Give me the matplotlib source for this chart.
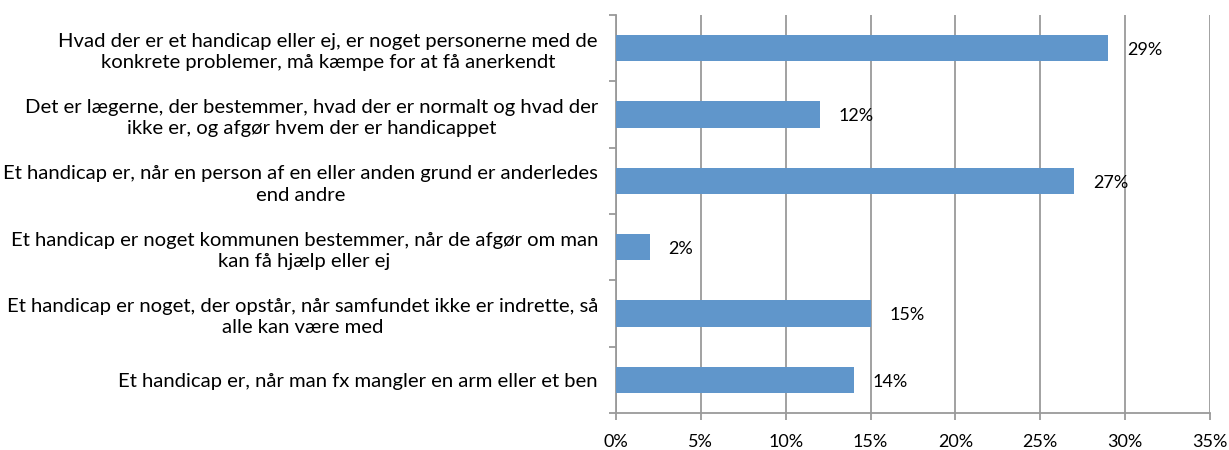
import matplotlib
matplotlib.use("Agg")
import matplotlib.pyplot as plt
import numpy as np

categories = [
    "Hvad der er et handicap eller ej, er noget personerne med de\nkonkrete problemer, må kæmpe for at få anerkendt",
    "Det er lægerne, der bestemmer, hvad der er normalt og hvad der\nikke er, og afgør hvem der er handicappet",
    "Et handicap er, når en person af en eller anden grund er anderledes\nend andre",
    "Et handicap er noget kommunen bestemmer, når de afgør om man\nkan få hjælp eller ej",
    "Et handicap er noget, der opstår, når samfundet ikke er indrette, så\nalle kan være med",
    "Et handicap er, når man fx mangler en arm eller et ben",
]
values = [29, 12, 27, 2, 15, 14]
xticks = [0, 5, 10, 15, 20, 25, 30, 35]
xticklabels = ["0%", "5%", "10%", "15%", "20%", "25%", "30%", "35%"]

plt.rcParams['font.family'] = ['Lato', 'DejaVu Sans']

W, H = 1229, 450
fig = plt.figure(figsize=(W/100, H/100), dpi=100)
ax = fig.add_axes([616/W, 1 - 413/H, (1210-616)/W, (413-15)/H])

n = len(categories)
y = np.arange(n)[::-1]
bar_color = '#6096CB'
ax.barh(y, values, height=0.4, color=bar_color, zorder=3)
for yi, v in zip(y, values):
    ax.text(v + 1.1, yi - 0.03, f"{v}%", va='center', ha='left', fontsize=13, color='black', zorder=4)

ax.set_xlim(0, 35)
ax.set_ylim(-0.5, n - 0.5)
ax.set_xticks(xticks)
ax.set_xticklabels(xticklabels, fontsize=13)
ax.set_yticks(y)
ax.set_yticklabels(categories, fontsize=14.6, multialignment='center', linespacing=1.3)
ax.set_yticks(np.arange(-0.5, n, 1.0), minor=True)

grid_c = '#9a9a9a'
ax.xaxis.grid(True, color=grid_c, linewidth=1.3, zorder=0)
ax.set_axisbelow(True)
for s in ['top', 'right']:
    ax.spines[s].set_visible(False)
for s in ['left', 'bottom']:
    ax.spines[s].set_color(grid_c)
    ax.spines[s].set_linewidth(1.3)

ax.tick_params(axis='y', which='major', length=0, pad=13)
ax.tick_params(axis='y', which='minor', length=5, color=grid_c, width=1.3, direction='out')
ax.tick_params(axis='x', which='major', length=5, color=grid_c, width=1.3, direction='out', pad=10)

fig.savefig("out.png", dpi=100)
